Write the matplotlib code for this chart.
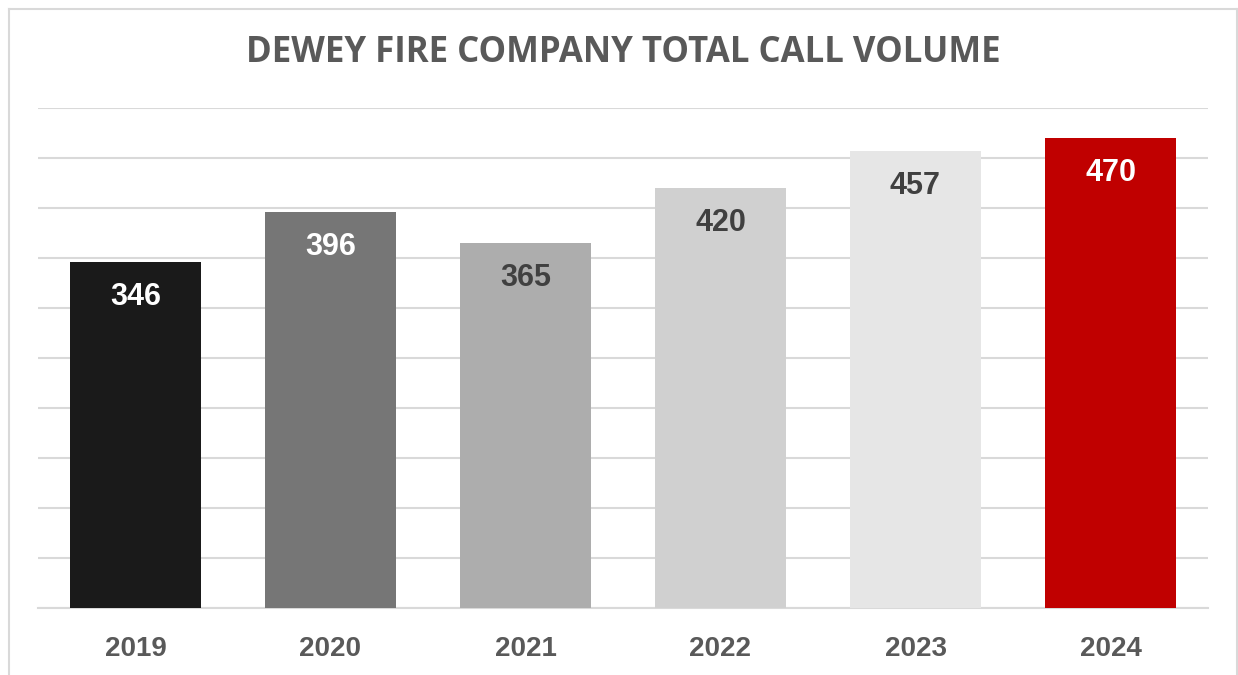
import matplotlib
matplotlib.use("Agg")
import matplotlib.pyplot as plt
from matplotlib.lines import Line2D

years = ["2019", "2020", "2021", "2022", "2023", "2024"]
calls = [346, 396, 365, 420, 457, 470]
bar_colors = ["#1a1a1a", "#767676", "#adadad", "#d0d0d0", "#e6e6e6", "#c00000"]
label_colors = ["white", "white", "#404040", "#404040", "#404040", "white"]

fig = plt.figure(figsize=(12.38, 6.75), dpi=100)
ax = fig.add_axes([38 / 1238, 1 - 608 / 675, 1170 / 1238, 500 / 675])

x = range(len(years))
bars = ax.bar(x, calls, width=0.67, color=bar_colors, zorder=3)

ax.set_xlim(-0.5, len(years) - 0.5)
ax.set_ylim(0, 500)
ax.set_yticks(range(0, 501, 50))
ax.yaxis.grid(True, color="#d9d9d9", linewidth=1.5, zorder=0)
ax.tick_params(axis="y", left=False, labelleft=False)
ax.tick_params(axis="x", length=0, pad=20)
ax.set_xticks(list(x))
ax.set_xticklabels(years, fontsize=20, fontweight="bold", color="#595959",
                   family="Liberation Sans")
for s in ["top", "right", "left"]:
    ax.spines[s].set_visible(False)
ax.spines["bottom"].set_color("#d9d9d9")
ax.spines["bottom"].set_linewidth(1.5)

for b, v, c in zip(bars, calls, label_colors):
    ax.annotate(str(v), (b.get_x() + b.get_width() / 2, v), xytext=(0, -25),
                textcoords="offset points", ha="center", va="center",
                fontsize=22, fontweight="bold", color=c, family="Liberation Sans",
                zorder=4)

fig.text(623 / 1238, 1 - 53 / 675, "DEWEY FIRE COMPANY TOTAL CALL VOLUME",
         ha="center", va="center", fontsize=25, fontweight="bold",
         color="#595959", family="Open Sans")

# light frame around the chart
fc = "#d9d9d9"
fig.add_artist(Line2D([8.5 / 1238, 8.5 / 1238], [0, 1 - 8.5 / 675], color=fc, lw=1.5))
fig.add_artist(Line2D([8.5 / 1238, 1236.5 / 1238], [1 - 8.5 / 675, 1 - 8.5 / 675], color=fc, lw=1.5))
fig.add_artist(Line2D([1236.5 / 1238, 1236.5 / 1238], [0, 1 - 8.5 / 675], color=fc, lw=1.5))

fig.savefig("out.png", dpi=100)
